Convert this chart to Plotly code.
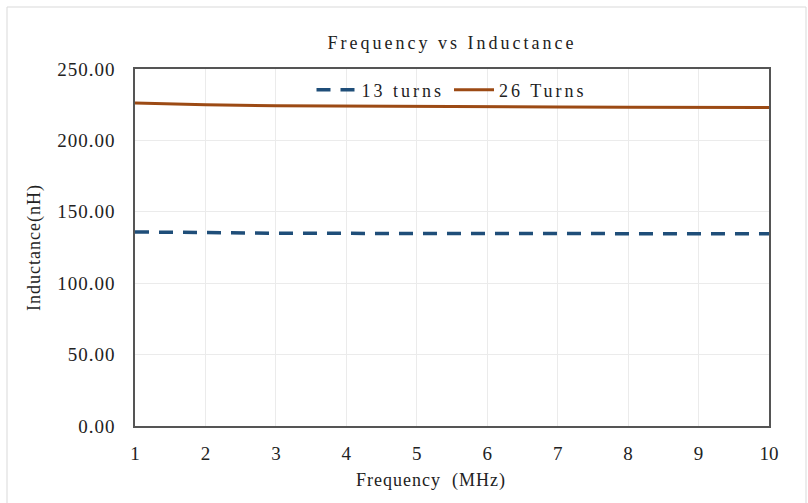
import plotly.graph_objects as go

# Frequency sweep (MHz) and measured inductance (nH)
freq_mhz = [1, 2, 3, 4, 5, 6, 7, 8, 9, 10]
l_13_turns = [135.9, 135.3, 135.0, 134.9, 134.8, 134.8, 134.7, 134.7, 134.6, 134.6]
l_26_turns = [226.2, 224.9, 224.2, 223.9, 223.7, 223.6, 223.4, 223.3, 223.1, 223.0]
y_ticks = [0, 50, 100, 150, 200, 250]

FONT = "Liberation Serif"
TXT = "#222222"


def spaced(text, px):
    return f'<span style="letter-spacing:{px}px">{text}</span>'


y_tick_text = [spaced(f"{v:.2f}", 1) for v in y_ticks]

fig = go.Figure()
fig.add_trace(go.Scatter(
    x=freq_mhz, y=l_13_turns, name=spaced("13 turns", 3), mode="lines",
    line=dict(color="#1F4E79", width=3.5, dash="14px,10px"),
))
fig.add_trace(go.Scatter(
    x=freq_mhz, y=l_26_turns, name=spaced("26 Turns", 3), mode="lines",
    line=dict(color="#9C4A14", width=3),
))

W, H = 808, 503
L, R, T, B = 135, 39, 69, 77
pw, ph = W - L - R, H - T - B


def px_x(p):
    return (p - L) / pw


def px_y(p):
    return (H - B - p) / ph


fig.update_layout(
    width=W, height=H,
    margin=dict(l=L, r=R, t=T, b=B),
    paper_bgcolor="white", plot_bgcolor="white",
    font=dict(family=FONT, size=18, color=TXT),
    title=dict(text=spaced("Frequency vs Inductance", 3), x=(L + pw / 2) / W,
               xanchor="center", y=1 - 43 / H, yanchor="middle",
               font=dict(family=FONT, size=18, color=TXT)),
    legend=dict(orientation="h", x=0.5, xanchor="center", y=px_y(90), yanchor="middle",
                bgcolor="rgba(0,0,0,0)", font=dict(family=FONT, size=18, color=TXT),
                itemwidth=40, tracegroupgap=0),
    xaxis=dict(range=[1, 10], tickmode="array", tickvals=freq_mhz,
               showgrid=True, gridcolor="#EBEBEB", gridwidth=1,
               zeroline=False, showline=True, linecolor="#555555", linewidth=1.5,
               mirror=True, ticks="", ticklabelstandoff=9,
               tickfont=dict(family=FONT, size=19, color=TXT)),
    yaxis=dict(range=[0, 250], tickmode="array", tickvals=y_ticks, ticktext=y_tick_text,
               showgrid=True, gridcolor="#EBEBEB", gridwidth=1,
               zeroline=False, showline=True, linecolor="#555555", linewidth=1.5,
               mirror=True, ticks="", ticklabelstandoff=14,
               tickfont=dict(family=FONT, size=19, color=TXT),
               title=dict(text=spaced("Inductance(nH)", 1), standoff=12,
                          font=dict(family=FONT, size=18, color=TXT))),
    annotations=[dict(text=spaced("Frequency  (MHz)", 1), xref="paper", yref="paper",
                      x=px_x(431), y=px_y(481), xanchor="center", yanchor="middle",
                      showarrow=False, font=dict(family=FONT, size=18, color=TXT))],
    shapes=[dict(type="rect", xref="paper", yref="paper",
                 x0=px_x(7), x1=px_x(806), y0=px_y(520), y1=px_y(7),
                 line=dict(color="#D9D9D9", width=1), layer="below")],
)

fig.write_html("out.html")
